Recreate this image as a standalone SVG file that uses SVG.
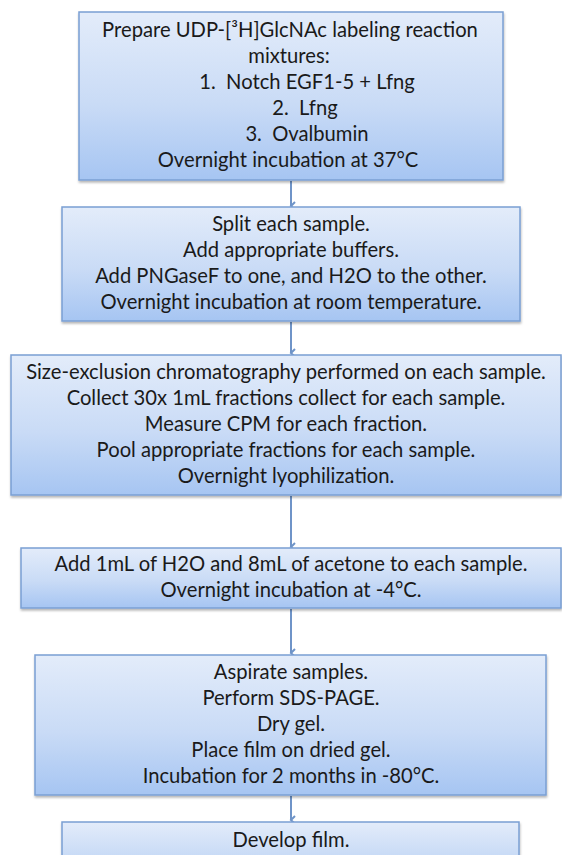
<svg xmlns="http://www.w3.org/2000/svg" width="562" height="855" viewBox="0 0 562 855">
  <style>
    .box { fill: url(#boxFill); stroke: #7a9fd3; stroke-width: 1.5; filter: url(#shadow); }
    .t { font-family: Lato, "Open Sans", "Liberation Sans", sans-serif; font-size: 20.2px; fill: #1a1a1a; text-anchor: middle; }
    .link { stroke: #6f94c8; stroke-width: 2; fill: none; marker-end: url(#head); }
  </style>
  <defs>
    <linearGradient id="boxFill" x1="0" y1="0" x2="0" y2="1">
      <stop offset="0" stop-color="#e3ecfa"/>
      <stop offset="0.55" stop-color="#c9dbf6"/>
      <stop offset="1" stop-color="#a6c5f2"/>
    </linearGradient>
    <filter id="shadow" x="-5%" y="-5%" width="110%" height="115%">
      <feDropShadow dx="0.5" dy="2" stdDeviation="1.2" flood-color="#000" flood-opacity="0.28"/>
    </filter>
    <marker id="head" markerWidth="10" markerHeight="10" refX="5" refY="7" orient="auto" markerUnits="userSpaceOnUse" viewBox="0 0 10 10">
      <path d="M1,3 L5,7 L9,3" fill="none" stroke="#6f94c8" stroke-width="2"/>
    </marker>
  </defs>

  <!-- connectors between steps -->
  <g id="connectors">
    <line class="link" x1="291" y1="181" x2="291" y2="206"/>
    <line class="link" x1="291" y1="322" x2="291" y2="353"/>
    <line class="link" x1="291" y1="496" x2="291" y2="547"/>
    <line class="link" x1="291" y1="609" x2="291" y2="653"/>
    <line class="link" x1="291" y1="796" x2="291" y2="820"/>
  </g>

  <g id="step1">
    <rect class="box" x="79" y="12" width="424" height="168"/>
    <text class="t" x="290" y="37">Prepare UDP-[³H]GlcNAc labeling reaction</text>
    <text class="t" x="289" y="63">mixtures:</text>
    <text class="t" x="307" y="89">1.&#160; Notch EGF1-5 + Lfng</text>
    <text class="t" x="305" y="115">2.&#160; Lfng</text>
    <text class="t" x="307" y="141">3.&#160; Ovalbumin</text>
    <text class="t" x="288" y="167">Overnight incubation at 37°C</text>
  </g>

  <g id="step2">
    <rect class="box" x="62" y="207" width="458" height="114"/>
    <text class="t" x="291" y="231">Split each sample.</text>
    <text class="t" x="291" y="257">Add appropriate buffers.</text>
    <text class="t" x="291" y="283">Add PNGaseF to one, and H2O to the other.</text>
    <text class="t" x="291" y="309">Overnight incubation at room temperature.</text>
  </g>

  <g id="step3">
    <rect class="box" x="11" y="355" width="550" height="140"/>
    <text class="t" x="286" y="379">Size-exclusion chromatography performed on each sample.</text>
    <text class="t" x="286" y="405">Collect 30x 1mL fractions collect for each sample.</text>
    <text class="t" x="286" y="431">Measure CPM for each fraction.</text>
    <text class="t" x="286" y="457">Pool appropriate fractions for each sample.</text>
    <text class="t" x="286" y="483">Overnight lyophilization.</text>
  </g>

  <g id="step4">
    <rect class="box" x="21" y="548" width="540" height="60"/>
    <text class="t" x="291" y="571">Add 1mL of H2O and 8mL of acetone to each sample.</text>
    <text class="t" x="291" y="597">Overnight incubation at -4°C.</text>
  </g>

  <g id="step5">
    <rect class="box" x="35" y="655" width="511" height="140"/>
    <text class="t" x="291" y="679">Aspirate samples.</text>
    <text class="t" x="291" y="705">Perform SDS-PAGE.</text>
    <text class="t" x="291" y="731">Dry gel.</text>
    <text class="t" x="291" y="757">Place film on dried gel.</text>
    <text class="t" x="291" y="783">Incubation for 2 months in -80°C.</text>
  </g>

  <g id="step6">
    <rect class="box" x="62" y="822" width="457" height="60"/>
    <text class="t" x="291" y="847">Develop film.</text>
  </g>
</svg>
